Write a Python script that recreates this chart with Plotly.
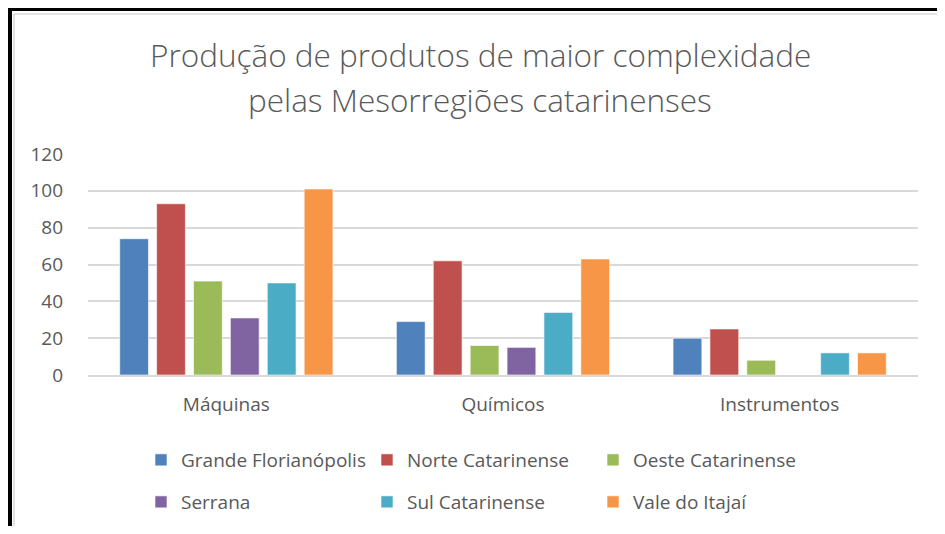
import plotly.graph_objects as go

categories = ["Máquinas", "Químicos", "Instrumentos"]
series_names = ["Grande Florianópolis", "Norte Catarinense", "Oeste Catarinense",
                "Serrana", "Sul Catarinense", "Vale do Itajaí"]
grande_florianopolis = [74, 29, 20]
norte_catarinense = [93, 62, 25]
oeste_catarinense = [51, 16, 8]
serrana = [31, 15, 0]
sul_catarinense = [50, 34, 12]
vale_do_itajai = [101, 63, 12]
colors = ["#4F81BD", "#C0504D", "#9BBB59", "#8064A2", "#4BACC6", "#F79646"]
y_ticks = [0, 20, 40, 60, 80, 100, 120]
title_lines = ["Produção de produtos de maior complexidade", "pelas Mesorregiões catarinenses"]

values = [grande_florianopolis, norte_catarinense, oeste_catarinense,
          serrana, sul_catarinense, vale_do_itajai]

OFF = 8  # default page body margin
W, H = 945 - 2 * OFF, 534 - 2 * OFF
# plot area in screen pixels
SL, SR, ST, SB = 88, 918, 154, 375
L, T = SL - OFF, ST - OFF
R, B = W - (SR - OFF), H - (SB - OFF)
pw, ph = SR - SL, SB - ST

def px(x):
    return (x - SL) / pw

def py(y):
    return (SB - y) / ph

font_fam = "'Open Sans', Lato, sans-serif"
gray = "#595959"
fs = 19

fig = go.Figure()
for i, (name, vals, c) in enumerate(zip(series_names, values, colors)):
    fig.add_trace(go.Bar(x=categories, y=vals, name=name,
                         legend="legend" if i < 3 else "legend2",
                         marker=dict(color=c, line=dict(color="rgba(255,255,255,0.6)", width=1))))

leg_common = dict(orientation="h", xanchor="left", yanchor="top", entrywidth=181,
                  font=dict(size=fs, color=gray, family=font_fam), bgcolor="rgba(0,0,0,0)")

fig.update_layout(
    width=W, height=H,
    margin=dict(l=L, r=R, t=T, b=B, autoexpand=False),
    paper_bgcolor="white", plot_bgcolor="white",
    barmode="group", bargap=0.2, bargroupgap=0.22,
    font=dict(family=font_fam, color=gray, size=fs),
    xaxis=dict(showline=True, linecolor="#d9d9d9", linewidth=1.5, ticks="",
               ticklabelstandoff=11,
               tickfont=dict(size=fs, color=gray), showgrid=False),
    yaxis=dict(range=[0, 120], tickvals=y_ticks, showgrid=True, gridcolor="#d9d9d9",
               gridwidth=1.5, zeroline=False, ticks="", ticklabelstandoff=24,
               tickfont=dict(size=fs, color=gray)),
    legend=dict(x=px(141), y=py(441), **leg_common),
    legend2=dict(x=px(141), y=py(483), **leg_common),
    showlegend=True,
)

for line, yc in zip(title_lines, [54, 99]):
    fig.add_annotation(text=line, xref="paper", yref="paper", x=px(480), y=py(yc),
                       xanchor="center", yanchor="middle", showarrow=False,
                       font=dict(size=31.5, color=gray, family=font_fam, weight=300))

# frame borders (kept inside the figure)
right_edge = W + OFF
bottom_edge = H + OFF
fig.add_shape(type="line", xref="paper", yref="paper", x0=px(8), x1=px(right_edge), y0=py(9), y1=py(9),
              line=dict(color="black", width=4))
fig.add_shape(type="line", xref="paper", yref="paper", x0=px(10), x1=px(10), y0=py(7), y1=py(bottom_edge),
              line=dict(color="black", width=4))
fig.add_shape(type="line", xref="paper", yref="paper", x0=px(14), x1=px(right_edge), y0=py(14), y1=py(14),
              line=dict(color="#d9d9d9", width=1.5))
fig.add_shape(type="line", xref="paper", yref="paper", x0=px(14), x1=px(14), y0=py(14), y1=py(bottom_edge),
              line=dict(color="#d9d9d9", width=1.5))

fig.write_html("out.html", config={"displayModeBar": False},
               post_script="document.body.style.overflow='hidden';")
